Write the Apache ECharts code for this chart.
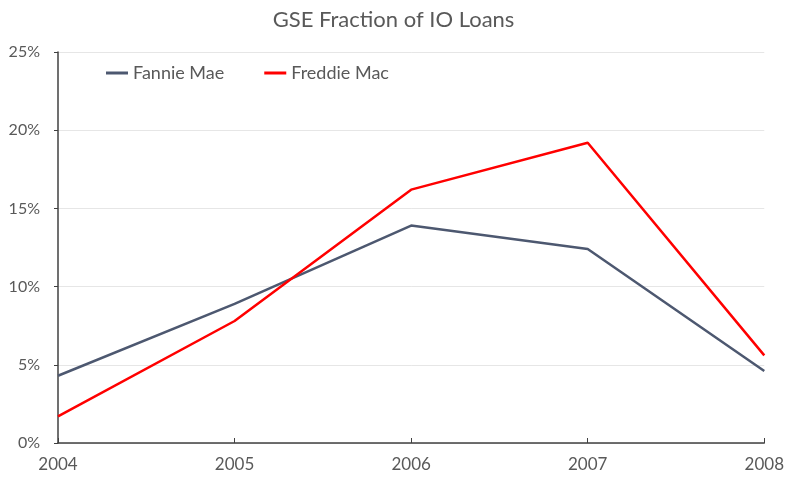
<!DOCTYPE html>
<html>
<head>
<meta charset="utf-8">
<script src="https://cdn.jsdelivr.net/npm/echarts@6/dist/echarts.min.js"></script>
<style>
html,body{margin:0;padding:0;background:#fff;}
#chart{width:787px;height:477px;}
</style>
</head>
<body>
<div id="chart"></div>
<script>
// data (percent)
var years = ['2004', '2005', '2006', '2007', '2008'];
var fannieMae = [4.3, 8.9, 13.9, 12.4, 4.6];
var freddieMac = [1.7, 7.8, 16.2, 19.2, 5.6];

var myChart = echarts.init(document.getElementById('chart'));
var font = 'Lato, "Liberation Sans", sans-serif';

var option = {
    backgroundColor: '#fff',
    animation: false,
    title: {
        text: 'GSE Fraction of IO Loans',
        left: 'center',
        top: 4,
        textStyle: {fontFamily: font, fontSize: 22, fontWeight: 'normal', color: '#595959'}
    },
    legend: {
        left: 101,
        top: 59,
        itemGap: 40,
        itemWidth: 22,
        itemHeight: 3,
        icon: 'rect',
        textStyle: {fontFamily: font, fontSize: 18, color: '#595959'},
        data: ['Fannie Mae', 'Freddie Mac']
    },
    grid: {left: 58, right: 21, top: 52, bottom: 34, containLabel: false},
    xAxis: {
        type: 'category',
        boundaryGap: false,
        data: years,
        axisLine: {lineStyle: {color: '#404040', width: 1.5}},
        axisTick: {inside: true, length: 5, lineStyle: {color: '#404040'}},
        axisLabel: {fontFamily: font, fontSize: 17, color: '#595959', margin: 13}
    },
    yAxis: {
        type: 'value',
        min: 0,
        max: 25,
        interval: 5,
        axisLine: {show: true, lineStyle: {color: '#404040', width: 1.5}},
        axisTick: {show: true, length: 4, lineStyle: {color: '#404040'}},
        axisLabel: {fontFamily: font, fontSize: 16, color: '#595959', margin: 18, formatter: '{value}%'},
        splitLine: {lineStyle: {color: '#e6e6e6', width: 1}}
    },
    series: [
        {
            name: 'Fannie Mae',
            type: 'line',
            data: fannieMae,
            symbol: 'none',
            itemStyle: {color: '#4d5870'},
            lineStyle: {color: '#4d5870', width: 2.5}
        },
        {
            name: 'Freddie Mac',
            type: 'line',
            data: freddieMac,
            symbol: 'none',
            itemStyle: {color: '#ff0000'},
            lineStyle: {color: '#ff0000', width: 2.5}
        }
    ]
};
myChart.setOption(option);
</script>
</body>
</html>
